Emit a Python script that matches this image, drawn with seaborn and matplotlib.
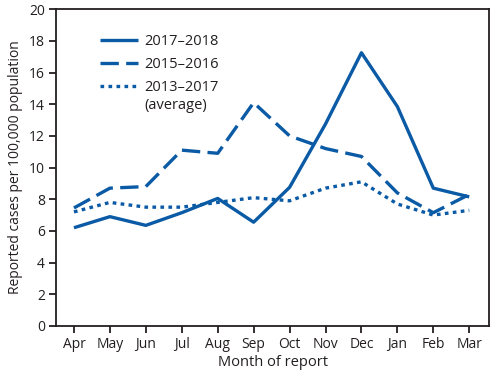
import matplotlib
matplotlib.use("Agg")
import matplotlib.pyplot as plt
import seaborn as sns
import pandas as pd

months = ["Apr", "May", "Jun", "Jul", "Aug", "Sep", "Oct", "Nov", "Dec", "Jan", "Feb", "Mar"]
s2017_2018 = [6.2, 6.9, 6.35, 7.15, 8.05, 6.55, 8.75, 12.75, 17.25, 13.85, 8.7, 8.15]
s2015_2016 = [7.45, 8.7, 8.8, 11.1, 10.9, 14.1, 12.0, 11.2, 10.7, 8.4, 7.15, 8.3]
s2013_2017 = [7.2, 7.8, 7.5, 7.5, 7.8, 8.1, 7.9, 8.7, 9.1, 7.7, 7.0, 7.3]
labels = ["2017\u20132018", "2015\u20132016", "2013\u20132017"]
note = "(average)"
yticks = [0, 2, 4, 6, 8, 10, 12, 14, 16, 18, 20]

sns.set_style("ticks")
plt.rcParams["font.family"] = ["Open Sans", "DejaVu Sans"]

color = "#0a5aa5"
ink = "#231f20"
fig = plt.figure(figsize=(5.0, 3.83), dpi=100)
ax = fig.add_axes([0.112, 0.149, 0.866, 0.827])

x = list(range(len(months)))
series = [s2017_2018, s2015_2016, s2013_2017]
styles = [(0, ()), (0, (5.5, 2.2)), (0, (1.1, 1.3))]
for vals, lab, ls in zip(series, labels, styles):
    df = pd.DataFrame({"x": x, "y": vals})
    sns.lineplot(data=df, x="x", y="y", ax=ax, color=color, linewidth=2.4,
                 linestyle=ls, label=lab)

ax.set_xlim(-0.5, 11.55)
ax.set_ylim(0, 20)
ax.set_xticks(x)
ax.set_xticklabels(months, fontsize=10, color=ink)
ax.set_yticks(yticks)
ax.set_yticklabels([str(v) for v in yticks], fontsize=10, color=ink)
ax.set_xlabel("Month of report", fontsize=10.5, color=ink, labelpad=2)
ax.set_ylabel("Reported cases per 100,000 population", fontsize=10, color=ink, labelpad=4)
ax.tick_params(axis="both", direction="out", length=5, width=1.3, color=ink, pad=3)
for sp in ax.spines.values():
    sp.set_visible(True)
    sp.set_linewidth(1.3)
    sp.set_color(ink)

leg = ax.legend(loc="upper left", bbox_to_anchor=(0.088, 0.94), frameon=False,
                fontsize=10.5, handlelength=2.6, handletextpad=0.45,
                labelspacing=0.55, borderaxespad=0.0, labelcolor=ink)

fig.canvas.draw()
bb = leg.get_texts()[2].get_window_extent()
fig.text(bb.x0 / fig.bbox.width, (bb.y0 - 3) / fig.bbox.height, note,
         fontsize=10.5, color=ink, ha="left", va="top")

fig.savefig("out.png", dpi=100)
